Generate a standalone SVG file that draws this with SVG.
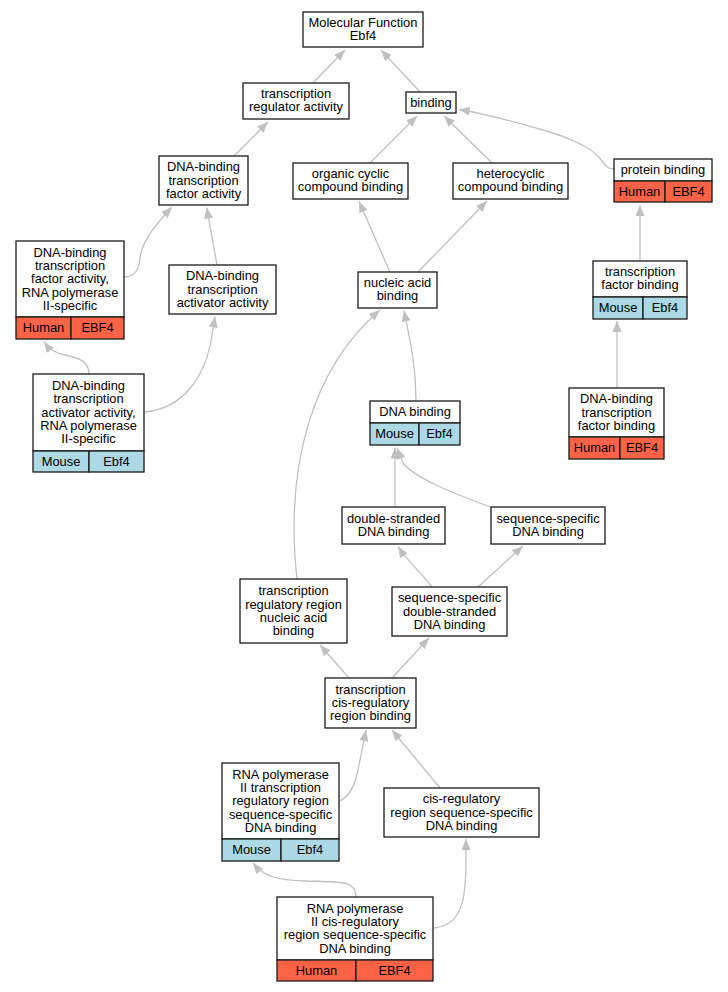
<svg xmlns="http://www.w3.org/2000/svg" width="728" height="992" viewBox="0 0 728 992">
<defs>
<style>
.n rect{fill:#fff;stroke:#1a1a1a;stroke-width:1.3}
.n rect.h{fill:#ff6347}
.n rect.m{fill:#add8e6}
text{font-family:"Liberation Sans",Arial,sans-serif;font-size:12.9px;fill:#000;text-anchor:middle}
.e path{fill:none;stroke:#c0c0c0;stroke-width:1.3;marker-end:url(#a)}
</style>
<marker id="a" viewBox="0 0 11 9" refX="11" refY="4.5" markerWidth="11" markerHeight="9" markerUnits="userSpaceOnUse" orient="auto">
<path d="M0,0 L11,4.5 L0,9 z" fill="#c0c0c0"/>
</marker>
</defs>
<rect width="728" height="992" fill="#fff"/>
<g id="edges" class="e">
<path d="M313,83 L345,50"/>
<path d="M420,92 L381,50"/>
<path d="M234,156 L268,122"/>
<path d="M370,163 L417,116"/>
<path d="M492,163 L444,116"/>
<path d="M614,169 C606,169 604,163 598,156 C588,146 565,136 543,130 C515,122 487,114 459,109.5"/>
<path d="M390,272 L359,201.5"/>
<path d="M418,272 L487,201"/>
<path d="M124,277 C136,277 139,268 140,258 C142,240 158,222 172,207"/>
<path d="M217,265 L206.7,207.5"/>
<path d="M89,374 C89,362 80,358 65,355 C56,353 50,350 44,341.5"/>
<path d="M145,412 C185,408 206,375 212,335 L215,316.5"/>
<path d="M416,401 C416,365 410,340 404,310.5"/>
<path d="M297,579 C285,470 310,370 380,310"/>
<path d="M640,261 L640,205"/>
<path d="M617,388 L617,321"/>
<path d="M395,507 L395,447.5"/>
<path d="M490,507 C450,492 415,478 403,463 L397,448"/>
<path d="M432,587 C422,573 408,562 398,546.5"/>
<path d="M478,587 L523,546"/>
<path d="M349,678 L320,645"/>
<path d="M392,678 L429,638"/>
<path d="M339,801 C350,797 355,785 358,770 L366,730"/>
<path d="M440,788 L392,730"/>
<path d="M356,897 C356,880 340,882 305,881 C280,880 265,878 253,863"/>
<path d="M434,928 C462,925 466,900 466,860 L466,839"/>
</g>
<g id="n1" class="n"><rect x="303" y="12" width="120" height="35"/><text x="363" y="27">Molecular Function</text><text x="363" y="40.3">Ebf4</text></g>
<g id="n2" class="n"><rect x="243" y="83" width="106" height="36"/><text x="296" y="98.1">transcription</text><text x="296" y="111.4">regulator activity</text></g>
<g id="n3" class="n"><rect x="406" y="92" width="50" height="21"/><text x="431" y="106.7">binding</text></g>
<g id="n4" class="n"><rect x="159" y="156" width="89" height="49"/><text x="203.5" y="171.3">DNA-binding</text><text x="203.5" y="184.6">transcription</text><text x="203.5" y="197.9">factor activity</text></g>
<g id="n5" class="n"><rect x="293" y="163" width="115" height="36"/><text x="350.5" y="178.1">organic cyclic</text><text x="350.5" y="191.4">compound binding</text></g>
<g id="n6" class="n"><rect x="453" y="163" width="115" height="36"/><text x="510.5" y="178.1">heterocyclic</text><text x="510.5" y="191.4">compound binding</text></g>
<g id="n7" class="n"><rect x="614" y="159" width="98" height="22"/><rect class="h" x="614" y="181" width="51" height="21"/><rect class="h" x="665" y="181" width="47" height="21"/><text x="663" y="174.2">protein binding</text><text x="639.5" y="195.7">Human</text><text x="688.5" y="195.7">EBF4</text></g>
<g id="n8" class="n"><rect x="16" y="241" width="108" height="76"/><rect class="h" x="16" y="317" width="55" height="22"/><rect class="h" x="71" y="317" width="53" height="22"/><text x="70" y="256.6">DNA-binding</text><text x="70" y="269.9">transcription</text><text x="70" y="283.2">factor activity,</text><text x="70" y="296.5">RNA polymerase</text><text x="70" y="309.8">II-specific</text><text x="43.5" y="332.2">Human</text><text x="97.5" y="332.2">EBF4</text></g>
<g id="n9" class="n"><rect x="169" y="265" width="107" height="49"/><text x="222.5" y="280.3">DNA-binding</text><text x="222.5" y="293.6">transcription</text><text x="222.5" y="306.9">activator activity</text></g>
<g id="n10" class="n"><rect x="358" y="272" width="79" height="36"/><text x="397.5" y="287.1">nucleic acid</text><text x="397.5" y="300.4">binding</text></g>
<g id="n11" class="n"><rect x="593" y="261" width="94" height="36"/><rect class="m" x="593" y="297" width="50" height="22"/><rect class="m" x="643" y="297" width="44" height="22"/><text x="640" y="276.1">transcription</text><text x="640" y="289.4">factor binding</text><text x="618" y="312.2">Mouse</text><text x="665" y="312.2">Ebf4</text></g>
<g id="n12" class="n"><rect x="33" y="374" width="111" height="77"/><rect class="m" x="33" y="451" width="56" height="21"/><rect class="m" x="89" y="451" width="55" height="21"/><text x="88.5" y="390.1">DNA-binding</text><text x="88.5" y="403.4">transcription</text><text x="88.5" y="416.7">activator activity,</text><text x="88.5" y="430">RNA polymerase</text><text x="88.5" y="443.3">II-specific</text><text x="61" y="465.7">Mouse</text><text x="116.5" y="465.7">Ebf4</text></g>
<g id="n13" class="n"><rect x="370" y="401" width="90" height="22"/><rect class="m" x="370" y="423" width="49" height="22"/><rect class="m" x="419" y="423" width="41" height="22"/><text x="415" y="416.2">DNA binding</text><text x="394.5" y="438.2">Mouse</text><text x="439.5" y="438.2">Ebf4</text></g>
<g id="n14" class="n"><rect x="569" y="388" width="95" height="49"/><rect class="h" x="569" y="437" width="51" height="22"/><rect class="h" x="620" y="437" width="44" height="22"/><text x="616.5" y="403.3">DNA-binding</text><text x="616.5" y="416.6">transcription</text><text x="616.5" y="429.9">factor binding</text><text x="594.5" y="452.2">Human</text><text x="642" y="452.2">EBF4</text></g>
<g id="n15" class="n"><rect x="342" y="507" width="103" height="37"/><text x="393.5" y="522.6">double-stranded</text><text x="393.5" y="535.9">DNA binding</text></g>
<g id="n16" class="n"><rect x="491" y="507" width="114" height="37"/><text x="548" y="522.6">sequence-specific</text><text x="548" y="535.9">DNA binding</text></g>
<g id="n17" class="n"><rect x="240" y="579" width="107" height="64"/><text x="293.5" y="595.2">transcription</text><text x="293.5" y="608.5">regulatory region</text><text x="293.5" y="621.8">nucleic acid</text><text x="293.5" y="635.1">binding</text></g>
<g id="n18" class="n"><rect x="392" y="587" width="115" height="49"/><text x="449.5" y="602.3">sequence-specific</text><text x="449.5" y="615.6">double-stranded</text><text x="449.5" y="628.9">DNA binding</text></g>
<g id="n19" class="n"><rect x="325" y="678" width="91" height="50"/><text x="370.5" y="693.8">transcription</text><text x="370.5" y="707.1">cis-regulatory</text><text x="370.5" y="720.4">region binding</text></g>
<g id="n20" class="n"><rect x="222" y="763" width="117" height="76"/><rect class="m" x="222" y="839" width="59" height="22"/><rect class="m" x="281" y="839" width="58" height="22"/><text x="280.5" y="778.6">RNA polymerase</text><text x="280.5" y="791.9">II transcription</text><text x="280.5" y="805.2">regulatory region</text><text x="280.5" y="818.5">sequence-specific</text><text x="280.5" y="831.8">DNA binding</text><text x="251.5" y="854.2">Mouse</text><text x="310" y="854.2">Ebf4</text></g>
<g id="n21" class="n"><rect x="384" y="788" width="155" height="49"/><text x="461.5" y="803.3">cis-regulatory</text><text x="461.5" y="816.6">region sequence-specific</text><text x="461.5" y="829.9">DNA binding</text></g>
<g id="n22" class="n"><rect x="277" y="897" width="156" height="63"/><rect class="h" x="277" y="960" width="79" height="21"/><rect class="h" x="356" y="960" width="77" height="21"/><text x="355" y="912.7">RNA polymerase</text><text x="355" y="926">II cis-regulatory</text><text x="355" y="939.3">region sequence-specific</text><text x="355" y="952.6">DNA binding</text><text x="316.5" y="974.7">Human</text><text x="394.5" y="974.7">EBF4</text></g>
</svg>
